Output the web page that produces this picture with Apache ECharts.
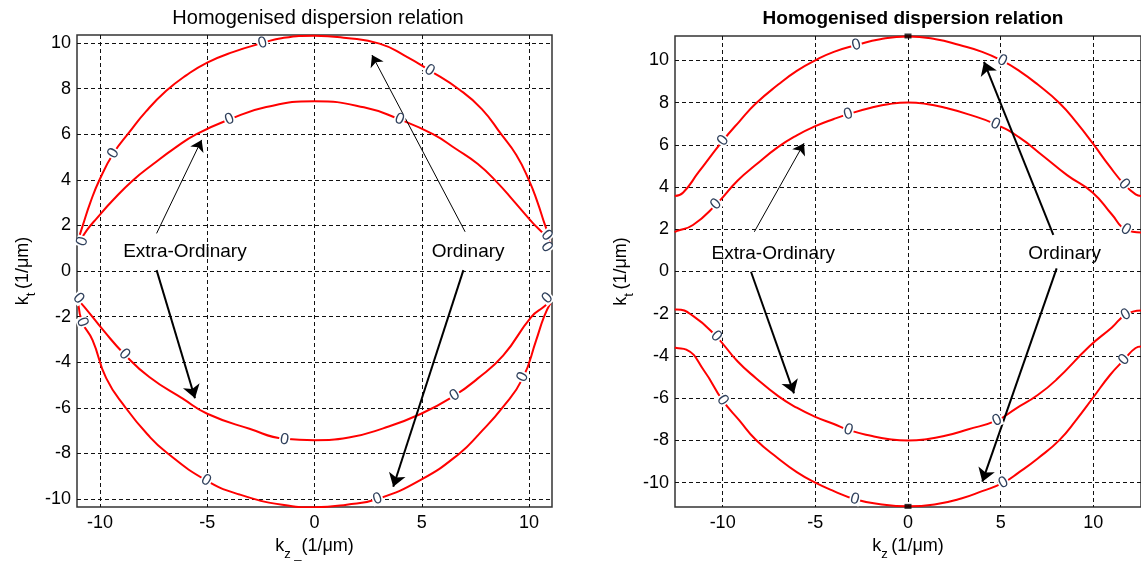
<!DOCTYPE html>
<html><head><meta charset="utf-8">
<script src="https://cdn.jsdelivr.net/npm/echarts@6/dist/echarts.min.js"></script>
<style>html,body{margin:0;padding:0;background:#fff}#c{width:1141px;height:567px}</style>
</head><body><div id="c"></div>
<script>
// ---------- data ----------
const titleText = 'Homogenised dispersion relation';
const xTicks = [-10, -5, 0, 5, 10];
const yTicks = [-10, -8, -6, -4, -2, 0, 2, 4, 6, 8, 10];

// Left panel contours [kz, kt]
const leftOrdUpper = [[-11.0,1.4],[-10.8,2.0],[-10.45,3.0],[-10.02,4.0],[-9.37,5.16],[-8.62,6.1],[-7.85,7.0],[-6.91,7.9],[-5.98,8.58],[-5.0,9.14],[-3.81,9.6],[-2.42,10.0],[-1.48,10.22],[0,10.32],[1.48,10.22],[3.03,9.97],[4.2,9.45],[5.36,8.8],[6.76,7.95],[7.8,7.1],[8.7,6.0],[9.4,5.1],[9.98,4.02],[10.4,3.0],[10.75,2.0],[11.0,1.4]];
const leftExtUpper = [[-11.0,1.2],[-10.6,1.8],[-10.16,2.3],[-9.4,3.1],[-8.47,3.97],[-7.5,4.7],[-6.5,5.4],[-5.5,6.0],[-3.96,6.65],[-2.25,7.19],[0,7.44],[2.3,7.18],[3.96,6.65],[5.52,6.0],[6.6,5.35],[7.6,4.7],[8.5,3.9],[9.3,3.05],[10.18,2.1],[10.7,1.6],[11.0,1.2]];
const leftExtLower = [[-11.0,-1.3],[-10.72,-1.58],[-9.8,-2.65],[-8.86,-3.65],[-7.7,-4.65],[-6.14,-5.6],[-5.0,-6.26],[-3.03,-6.92],[-1.4,-7.36],[0,-7.42],[1.6,-7.3],[3.2,-6.9],[4.97,-6.26],[6.53,-5.46],[7.6,-4.72],[8.8,-3.7],[10.1,-2.02],[10.72,-1.55],[11.0,-1.3]];
const leftOrdLower = [[-11.0,-1.5],[-10.82,-2.25],[-10.34,-3.04],[-9.71,-4.7],[-8.8,-6.0],[-7.8,-7.15],[-6.91,-7.95],[-5.05,-9.18],[-3.5,-9.8],[-1.5,-10.25],[0,-10.36],[1.5,-10.25],[2.94,-10.0],[4.97,-9.15],[6.76,-8.0],[7.69,-7.13],[8.78,-5.97],[9.71,-4.7],[10.33,-3.04],[10.7,-2.0],[11.0,-1.4]];

// Right panel contours [kz, kt]
const rightOrdUpper = [[-12.58,3.57],[-12.14,3.73],[-11.3,4.7],[-10.0,6.18],[-9.1,7.1],[-8.21,7.95],[-7.0,8.85],[-6.0,9.5],[-5.0,10.0],[-4.0,10.4],[-2.78,10.72],[-1.5,11.0],[0,11.13],[1.5,11.0],[2.78,10.72],[4.0,10.4],[5.08,9.98],[6.0,9.5],[7.0,8.85],[8.18,7.97],[9.1,7.05],[10.0,6.03],[10.86,5.0],[11.66,4.13],[12.28,3.65],[12.58,3.57]];
const rightExtUpper = [[-12.58,1.85],[-12.49,1.91],[-11.6,2.2],[-10.35,3.18],[-9.2,4.3],[-8.21,5.05],[-7.0,5.9],[-6.0,6.45],[-5.0,6.88],[-4.0,7.22],[-3.22,7.45],[-2.0,7.75],[-1.0,7.93],[0,8.0],[1.0,7.93],[2.0,7.75],[3.22,7.45],[4.71,6.98],[6.0,6.35],[7.29,5.47],[8.6,4.55],[9.97,3.73],[11.0,2.7],[11.75,1.99],[12.58,1.85]];
const rightExtLower = [[-12.58,-1.8],[-12.49,-1.8],[-11.6,-2.1],[-10.35,-3.07],[-9.2,-4.25],[-8.2,-5.05],[-7.0,-5.9],[-6.0,-6.45],[-5.0,-6.88],[-4.0,-7.22],[-3.22,-7.5],[-2.0,-7.78],[-1.0,-7.94],[0,-8.0],[1.0,-7.94],[2.0,-7.78],[3.22,-7.48],[4.8,-7.05],[5.8,-6.5],[7.0,-5.85],[8.0,-5.13],[9.79,-3.54],[11.0,-2.65],[11.75,-2.04],[12.58,-1.85]];
const rightOrdLower = [[-12.58,-3.6],[-12.49,-3.62],[-11.96,-3.7],[-11.0,-4.7],[-10.0,-6.1],[-9.1,-7.05],[-8.21,-7.97],[-7.0,-8.85],[-6.0,-9.5],[-5.0,-10.0],[-4.0,-10.4],[-2.87,-10.78],[-1.5,-11.02],[0,-11.12],[1.5,-11.02],[2.87,-10.75],[4.0,-10.4],[5.15,-10.0],[6.0,-9.5],[7.0,-8.85],[8.18,-7.97],[9.1,-7.0],[9.97,-5.99],[10.9,-4.9],[11.66,-4.18],[12.28,-3.62],[12.58,-3.55]];

// contour-label positions ("0")
const leftZeroLabels = [[-9.37,5.16],[-2.42,10.0],[5.36,8.8],[-3.96,6.65],[3.96,6.65],[-10.82,1.3],[10.82,1.56],[10.82,1.05],[-11.0,-1.2],[10.86,-1.2],[-10.82,-2.25],[-8.86,-3.65],[-1.4,-7.4],[-5.05,-9.18],[2.94,-10.0],[6.53,-5.46],[9.71,-4.65]];
const rightZeroLabels = [[-9.98,6.2],[-2.78,10.72],[5.08,9.98],[11.66,4.13],[-10.35,3.18],[-3.22,7.45],[4.71,6.98],[11.75,1.99],[-10.35,-3.07],[-3.22,-7.5],[4.8,-7.05],[11.75,-2.04],[-10.0,-6.1],[-2.87,-10.78],[5.15,-10.0],[11.66,-4.18]];
const rightSquares = [[0,11.15],[0,-11.12]];

// annotations: arrows [from, to] and texts
const leftArrows = [[[-7.36,1.65],[-5.26,5.75]],[[-7.36,0.04],[-5.57,-5.58]],[[7.02,1.72],[2.68,9.47]],[[6.94,0.04],[3.67,-9.46]]];
const rightArrows = [[[-8.29,1.88],[-5.61,6.07]],[[-8.47,-0.01],[-6.15,-5.77]],[[7.84,1.73],[4.10,9.93]],[[8.02,0.15],[4.01,-9.95]]];
const leftTexts = [['Extra-Ordinary',[-6.04,0.86]],['Ordinary',[7.16,0.86]]];
const rightTexts = [['Extra-Ordinary',[-7.27,0.83]],['Ordinary',[8.45,0.83]]];

// ---------- chart ----------
const FONT = "'Liberation Sans', Arial, Helvetica, sans-serif";
const chart = echarts.init(document.getElementById('c'), null, {renderer:'canvas'});

const rich = {
  k:{fontSize:18, fontFamily:FONT, color:'#000', verticalAlign:'top', lineHeight:20},
  s:{fontSize:13, fontFamily:FONT, color:'#000', verticalAlign:'top', lineHeight:14, padding:[11,0,0,0]},
  n:{fontSize:18, fontFamily:FONT, color:'#000', verticalAlign:'top', lineHeight:20}
};
function xAxis(g, min, max, name){
  return {type:'value', gridIndex:g, min, max, name, nameLocation:'middle', nameGap:29,
    nameTextStyle:{rich, fontFamily:FONT},
    axisLine:{show:false}, axisTick:{show:false, customValues:xTicks},
    axisLabel:{customValues:xTicks, fontSize:18, color:'#000', fontFamily:FONT, margin:7},
    splitLine:{show:true, lineStyle:{color:'#111', width:1, type:[4,3]}}};
}
function yAxis(g, min, max, name){
  return {type:'value', gridIndex:g, min, max, name, nameLocation:'middle', nameGap:43,
    nameTextStyle:{rich, fontFamily:FONT},
    axisLine:{show:false}, axisTick:{show:false, customValues:yTicks},
    axisLabel:{customValues:yTicks, fontSize:18, color:'#000', fontFamily:FONT, margin:6},
    splitLine:{show:true, lineStyle:{color:'#111', width:1, type:[4,3]}}};
}
function curve(g, data){
  return {type:'line', xAxisIndex:g, yAxisIndex:g, data, smooth:0.5, symbol:'none', showSymbol:false,
    lineStyle:{color:'#ff0000', width:2}, silent:true, clip:true, z:3};
}
function arrows(g, list, widths){
  return {type:'line', xAxisIndex:g, yAxisIndex:g, data:[], silent:true, z:6,
    markLine:{silent:true, animation:false, symbol:['none','arrow'], label:{show:false},
      data:list.map((a,i)=>[{coord:a[0], symbolSize:0},
        {coord:a[1], symbolSize:widths[i]>1.5?13:11, lineStyle:{color:'#000', width:widths[i], type:'solid'}}]),
      lineStyle:{color:'#000', type:'solid'}}};
}
function texts(g, list){
  return {type:'scatter', xAxisIndex:g, yAxisIndex:g, symbolSize:0, itemStyle:{color:'#000'}, silent:true, z:7,
    data:list.map(t=>({name:t[0], value:t[1]})),
    label:{show:true, position:'inside', formatter:'{b}', fontSize:19, color:'#000', textBorderWidth:0, opacity:1, fontFamily:FONT}};
}
function zeroLabels(id, g, pts){
  return {id, type:'scatter', xAxisIndex:g, yAxisIndex:g, symbolSize:0, itemStyle:{color:'#2f405c'}, silent:true, z:5,
    data:pts.map(p=>({value:p})),
    label:{show:true, position:'inside', formatter:'0', fontSize:16, color:'#2f405c', textBorderWidth:0, opacity:1,
      backgroundColor:'#fff', padding:[-2,1], fontFamily:FONT}};
}

const kz = '{k|k}{s|z }{s|_}{n|(1/\u03bcm)}';
const kzR = '{k|k}{s|z }{n|(1/\u03bcm)}';
const kt = '{k|k}{s|t }{n|(1/\u03bcm)}';

const option = {
  animation:false,
  backgroundColor:'#fff',
  title:[
    {text:titleText, left:313, top:3, textAlign:'center', textStyle:{fontSize:20, fontWeight:'normal', color:'#000', fontFamily:FONT}},
    {text:titleText, left:908, top:4, textAlign:'center', textStyle:{fontSize:19, fontWeight:'bold', color:'#000', fontFamily:FONT}}
  ],
  grid:[
    {left:77, top:35, width:475, height:472, show:true, borderColor:'#333', borderWidth:1.5, backgroundColor:'#fff'},
    {left:675, top:36, width:470, height:471, show:true, borderColor:'#333', borderWidth:1.5, backgroundColor:'#fff'}
  ],
  xAxis:[xAxis(0,-11.07,11.07,kz), xAxis(1,-12.57,12.57,kzR)],
  yAxis:[yAxis(0,-10.35,10.35,kt), yAxis(1,-11.15,11.15,kt)],
  series:[
    curve(0,leftOrdUpper), curve(0,leftExtUpper), curve(0,leftExtLower), curve(0,leftOrdLower),
    curve(1,rightOrdUpper), curve(1,rightExtUpper), curve(1,rightExtLower), curve(1,rightOrdLower),
    zeroLabels('zl0',0,leftZeroLabels), zeroLabels('zl1',1,rightZeroLabels),
    {type:'scatter', xAxisIndex:1, yAxisIndex:1, symbol:'rect', symbolSize:[7,5], clip:false,
      itemStyle:{color:'#000'}, silent:true, z:8, data:rightSquares},
    arrows(0,leftArrows,[1,2,1,2]), arrows(1,rightArrows,[1,2,2,2]),
    texts(0,leftTexts), texts(1,rightTexts)
  ]
};
chart.setOption(option);

// rotate each "0" along its contour using the library's pixel mapping
function rotated(g, curves, pts){
  return pts.map(pt=>{
    let best=null, bd=Infinity;
    curves.forEach(c=>c.forEach((p,i)=>{const d=(p[0]-pt[0])**2+(p[1]-pt[1])**2; if(d<bd){bd=d; best={c,i};}}));
    const c=best.c, i=best.i;
    const a=c[Math.max(0,i-1)], b=c[Math.min(c.length-1,i+1)];
    const pa=chart.convertToPixel({gridIndex:g}, a), pb=chart.convertToPixel({gridIndex:g}, b);
    let ang=Math.atan2(-(pb[1]-pa[1]), pb[0]-pa[0])*180/Math.PI;
    if(ang>90) ang-=180; if(ang<-90) ang+=180;
    return {value:pt, label:{rotate:ang}};
  });
}
chart.setOption({series:[
  {id:'zl0', data:rotated(0,[leftOrdUpper,leftExtUpper,leftExtLower,leftOrdLower],leftZeroLabels)},
  {id:'zl1', data:rotated(1,[rightOrdUpper,rightExtUpper,rightExtLower,rightOrdLower],rightZeroLabels)}
]});
</script></body></html>
